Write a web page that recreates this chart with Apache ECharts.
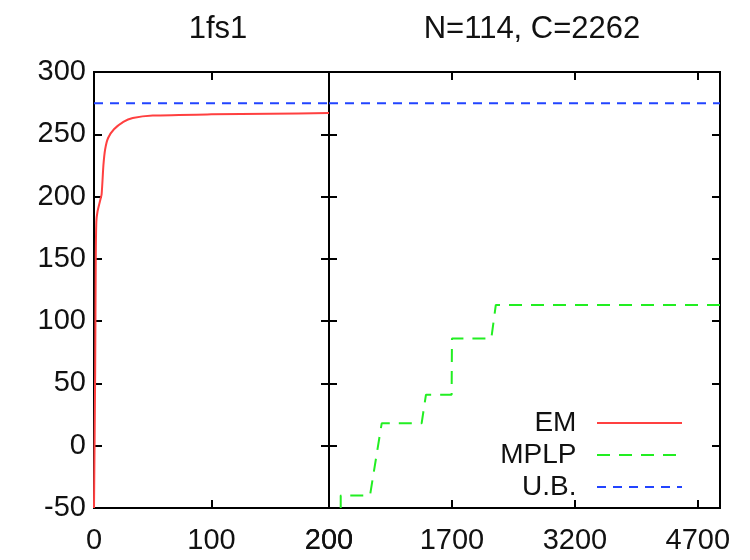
<!DOCTYPE html>
<html>
<head>
<meta charset="utf-8">
<script src="https://cdn.jsdelivr.net/npm/echarts@6/dist/echarts.min.js"></script>
<style>
  html, body { margin: 0; padding: 0; background: #fff; }
  #chart { width: 750px; height: 560px; }
</style>
</head>
<body>
<div id="chart"></div>
<script>
// titles of the two panels
var titles = ['1fs1', 'N=114, C=2262']

// left panel: EM curve (iteration, value)
var emX = [0, 1, 1.5, 2, 3, 5, 6.5, 8, 9.5, 12, 17, 25, 33, 50, 100, 150, 200]
var emY = [-50, 60, 150, 180, 188, 196, 202, 225, 238, 247, 254, 260, 263, 265, 266, 266.5, 267]

// right panel: MPLP steps (time, value)
var mplpX = [343, 343, 700, 843, 1330, 1383, 1696, 1700, 2180, 2235, 4970]
var mplpY = [-50, -40, -40, 18, 18, 41, 41, 86, 86, 113, 113]

// upper bound
var ubValue = 275

// axes
var leftXTicks = [0, 100, 200]
var rightXTicks = [200, 1700, 3200, 4700]
var yMin = -50, yMax = 300, yStep = 50

var font = "'Liberation Sans', Arial, sans-serif"

function pairs(xs, ys) {
  return xs.map(function (x, i) { return [x, ys[i]] })
}

var frame = { show: true, onZero: false, lineStyle: { color: '#000', width: 2 } }
var tick = { show: true, inside: true, length: 8, lineStyle: { color: '#000', width: 2 } }
var label = { color: '#111', fontSize: 29, fontFamily: font, formatter: function (v) { return String(v) } }

var chart = echarts.init(document.getElementById('chart'))

chart.setOption({
  animation: false,
  title: [
    { text: titles[0], left: 213, top: 9, textAlign: 'center',
      textStyle: { fontSize: 31, fontWeight: 'normal', color: '#111', fontFamily: font } },
    { text: titles[1], left: 527, top: 9, textAlign: 'center',
      textStyle: { fontSize: 31, fontWeight: 'normal', color: '#111', fontFamily: font } },
  ],
  grid: [
    { left: 94, right: 421, top: 72, bottom: 52, show: true, borderColor: '#000', borderWidth: 2 },
    { left: 329, right: 30, top: 72, bottom: 52, show: true, borderColor: '#000', borderWidth: 2 },
  ],
  legend: {
    orient: 'vertical',
    align: 'right',
    right: 62,
    top: 404,
    itemWidth: 85,
    itemHeight: 14,
    itemGap: 4,
    itemStyle: { opacity: 0 },
    formatter: function (n) { return n + '  ' },
    textStyle: { fontSize: 28, color: '#111', fontFamily: font },
    data: ['EM', 'MPLP', 'U.B.'],
  },
  xAxis: [
    { gridIndex: 0, type: 'value', min: 0, max: 200, position: 'bottom',
      axisLine: frame, splitLine: { show: false },
      axisTick: Object.assign({ customValues: leftXTicks }, tick),
      axisLabel: Object.assign({ customValues: leftXTicks, margin: 18 }, label) },
    { gridIndex: 0, type: 'value', min: 0, max: 200, position: 'top',
      axisLine: frame, splitLine: { show: false },
      axisTick: Object.assign({ customValues: leftXTicks }, tick),
      axisLabel: { show: false } },
    { gridIndex: 1, type: 'value', min: 200, max: 4970, position: 'bottom',
      axisLine: frame, splitLine: { show: false },
      axisTick: Object.assign({ customValues: rightXTicks }, tick),
      axisLabel: Object.assign({ customValues: rightXTicks, margin: 18 }, label) },
    { gridIndex: 1, type: 'value', min: 200, max: 4970, position: 'top',
      axisLine: frame, splitLine: { show: false },
      axisTick: Object.assign({ customValues: rightXTicks }, tick),
      axisLabel: { show: false } },
  ],
  yAxis: [
    { gridIndex: 0, type: 'value', min: yMin, max: yMax, interval: yStep, position: 'left',
      axisLine: frame, splitLine: { show: false }, axisTick: tick,
      axisLabel: Object.assign({ margin: 8 }, label) },
    { gridIndex: 0, type: 'value', min: yMin, max: yMax, interval: yStep, position: 'right',
      axisLine: frame, splitLine: { show: false }, axisTick: tick,
      axisLabel: { show: false } },
    { gridIndex: 1, type: 'value', min: yMin, max: yMax, interval: yStep, position: 'left',
      axisLine: frame, splitLine: { show: false }, axisTick: tick,
      axisLabel: { show: false } },
    { gridIndex: 1, type: 'value', min: yMin, max: yMax, interval: yStep, position: 'right',
      axisLine: frame, splitLine: { show: false }, axisTick: tick,
      axisLabel: { show: false } },
  ],
  series: [
    { name: 'EM', type: 'line', xAxisIndex: 0, yAxisIndex: 0,
      data: pairs(emX, emY), showSymbol: false, symbol: 'none', smooth: 0.2,
      itemStyle: { color: '#ff4040' },
      lineStyle: { color: '#ff4040', width: 2 } },
    { name: 'MPLP', type: 'line', xAxisIndex: 2, yAxisIndex: 2,
      data: pairs(mplpX, mplpY), showSymbol: false, symbol: 'none',
      itemStyle: { color: '#22ee22' },
      lineStyle: { color: '#22ee22', width: 2, type: [13, 9] } },
    { name: 'U.B.', type: 'line', xAxisIndex: 0, yAxisIndex: 0,
      data: [[0, ubValue], [200, ubValue]], showSymbol: false, symbol: 'none',
      itemStyle: { color: '#2244ff' },
      lineStyle: { color: '#2244ff', width: 2, type: [9, 7] } },
    { name: 'U.B.', type: 'line', xAxisIndex: 2, yAxisIndex: 2,
      data: [[200, ubValue], [4970, ubValue]], showSymbol: false, symbol: 'none',
      itemStyle: { color: '#2244ff' },
      lineStyle: { color: '#2244ff', width: 2, type: [9, 7] } },
  ],
})
</script>
</body>
</html>
